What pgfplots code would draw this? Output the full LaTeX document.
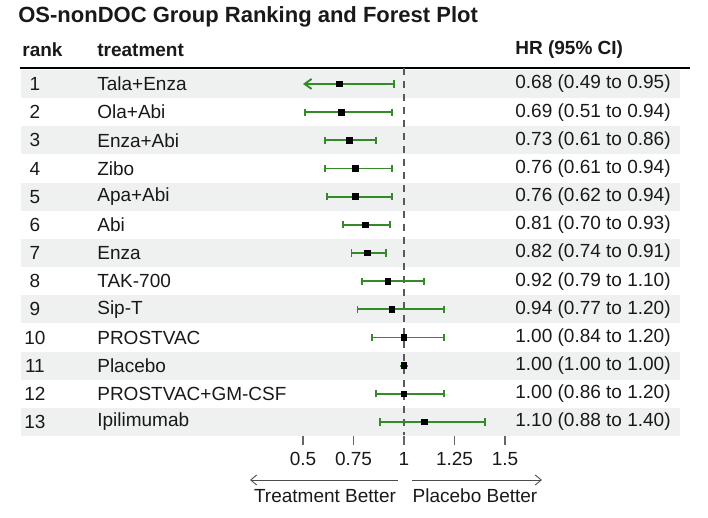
\documentclass[border=0pt]{standalone}
\usepackage{pgfplots}
\pgfplotsset{compat=1.18}
\usepackage{pgfplotstable}
\usepackage{fontspec}
\setmainfont{Liberation Sans}
\usetikzlibrary{arrows.meta}
\definecolor{barg}{RGB}{52,138,38}
\definecolor{band}{RGB}{238,241,240}
\definecolor{txt}{RGB}{25,25,25}

\pgfplotstableread{
rank hr em ep
2  0.69 0.18 0.25
3  0.73 0.12 0.13
4  0.76 0.15 0.18
5  0.76 0.14 0.18
6  0.81 0.11 0.12
7  0.82 0.08 0.09
8  0.92 0.13 0.18
9  0.94 0.17 0.26
10 1.00 0.16 0.20
11 1.00 0.00 0.00
12 1.00 0.14 0.20
13 1.10 0.22 0.30
}\forest

\begin{document}
\begin{tikzpicture}[font=\fontsize{9.5}{11}\selectfont, every node/.style={text=txt, inner xsep=0pt}]
\begin{axis}[
  scale only axis, width=101pt, height=183.5pt,
  xmin=0.5, xmax=1.5, ymin=-13.46, ymax=-0.432,
  clip=false,
  axis x line=bottom, axis y line=none,
  axis line style={gray!80!black, line width=0.6pt, -},
  xtick={0.5,0.75,1,1.25,1.5},
  tick align=outside,
  major tick length=5pt,
  tick style={gray!80!black, line width=0.6pt},
  ytick=\empty,
  /pgf/number format/assume math mode=true,
  xticklabel style={font=\fontsize{9.5}{11}\selectfont, text=txt},
]
% row shading
\foreach \r in {1,3,5,7,9,11,13} {
  \edef\tmp{\noexpand\fill[band] (axis cs:-0.897,-\r+0.5) rectangle (axis cs:2.366,-\r-0.5);}
  \tmp
}
% header line
\draw[black, line width=1pt] (axis cs:-0.901,-0.432) -- (axis cs:2.416,-0.432);
% reference line
\addplot[gray!70!black, line width=0.75pt, dash pattern=on 3.5pt off 3pt] coordinates {(1,-0.432) (1,-13.46)};
% row 1 (lower limit beyond axis: arrow)
\addplot[barg, line width=0.95pt, -{Straight Barb[length=3.5pt,width=5pt]}] coordinates {(0.68,-1) (0.5,-1)};
\addplot[barg, line width=0.95pt] coordinates {(0.68,-1) (0.95,-1)};
\addplot[barg, line width=0.95pt] coordinates {(0.95,-0.87) (0.95,-1.13)};
\addplot[only marks, mark=square*, mark size=1.4pt, black] coordinates {(0.68,-1)};
% rows 2-13
\addplot[only marks, mark=square*, mark size=1.4pt, black,
  error bars/.cd, x dir=both, x explicit,
  error bar style={barg, line width=0.95pt},
  error mark options={barg, line width=0.95pt, mark size=1.8pt, rotate=90}]
  table[x=hr, y expr=-\thisrow{rank}, x error minus=em, x error plus=ep] {\forest};

% title and headers
\node[anchor=west, font=\fontsize{11}{13}\selectfont\bfseries] at (axis cs:-0.911,1.378) {OS-nonDOC Group Ranking and Forest Plot};
\node[anchor=west, font=\fontsize{9.5}{11}\selectfont\bfseries] at (axis cs:-0.891,0.207) {rank};
\node[anchor=west, font=\fontsize{9.5}{11}\selectfont\bfseries] at (axis cs:-0.520,0.207) {treatment};
\node[anchor=west, font=\fontsize{9.5}{11}\selectfont\bfseries] at (axis cs:1.5495,0.207) {HR (95\% CI)};

% table text
\node at (axis cs:-0.827,-1) {1};  \node[anchor=west] at (axis cs:-0.520,-1) {Tala+Enza};  \node[anchor=west] at (axis cs:1.5495,-1) {0.68 (0.49 to 0.95)};
\node at (axis cs:-0.827,-2) {2};  \node[anchor=west] at (axis cs:-0.520,-2) {Ola+Abi};  \node[anchor=west] at (axis cs:1.5495,-2) {0.69 (0.51 to 0.94)};
\node at (axis cs:-0.827,-3) {3};  \node[anchor=west] at (axis cs:-0.520,-3) {Enza+Abi};  \node[anchor=west] at (axis cs:1.5495,-3) {0.73 (0.61 to 0.86)};
\node at (axis cs:-0.827,-4) {4};  \node[anchor=west] at (axis cs:-0.520,-4) {Zibo};  \node[anchor=west] at (axis cs:1.5495,-4) {0.76 (0.61 to 0.94)};
\node at (axis cs:-0.827,-5) {5};  \node[anchor=west] at (axis cs:-0.520,-5) {Apa+Abi};  \node[anchor=west] at (axis cs:1.5495,-5) {0.76 (0.62 to 0.94)};
\node at (axis cs:-0.827,-6) {6};  \node[anchor=west] at (axis cs:-0.520,-6) {Abi};  \node[anchor=west] at (axis cs:1.5495,-6) {0.81 (0.70 to 0.93)};
\node at (axis cs:-0.827,-7) {7};  \node[anchor=west] at (axis cs:-0.520,-7) {Enza};  \node[anchor=west] at (axis cs:1.5495,-7) {0.82 (0.74 to 0.91)};
\node at (axis cs:-0.827,-8) {8};  \node[anchor=west] at (axis cs:-0.520,-8) {TAK-700};  \node[anchor=west] at (axis cs:1.5495,-8) {0.92 (0.79 to 1.10)};
\node at (axis cs:-0.827,-9) {9};  \node[anchor=west] at (axis cs:-0.520,-9) {Sip-T};  \node[anchor=west] at (axis cs:1.5495,-9) {0.94 (0.77 to 1.20)};
\node at (axis cs:-0.827,-10) {10};  \node[anchor=west] at (axis cs:-0.520,-10) {PROSTVAC};  \node[anchor=west] at (axis cs:1.5495,-10) {1.00 (0.84 to 1.20)};
\node at (axis cs:-0.827,-11) {11};  \node[anchor=west] at (axis cs:-0.520,-11) {Placebo};  \node[anchor=west] at (axis cs:1.5495,-11) {1.00 (1.00 to 1.00)};
\node at (axis cs:-0.827,-12) {12};  \node[anchor=west] at (axis cs:-0.520,-12) {PROSTVAC+GM-CSF};  \node[anchor=west] at (axis cs:1.5495,-12) {1.00 (0.86 to 1.20)};
\node at (axis cs:-0.827,-13) {13};  \node[anchor=west] at (axis cs:-0.520,-13) {Ipilimumab};  \node[anchor=west] at (axis cs:1.5495,-13) {1.10 (0.88 to 1.40)};

% direction arrows
\draw[gray!60!black, line width=0.45pt, {Straight Barb[length=3pt,width=5pt]}-] (axis cs:0.2376,-15.058) -- (axis cs:0.970,-15.058);
\draw[gray!60!black, line width=0.45pt, -{Straight Barb[length=3pt,width=5pt]}] (axis cs:1.0396,-15.058) -- (axis cs:1.683,-15.058);
\node at (axis cs:0.6089,-15.626) {Treatment Better};
\node at (axis cs:1.3515,-15.626) {Placebo Better};

% page extent
\path (axis cs:-1.0,1.911) rectangle (axis cs:2.505,-16.407);
\end{axis}
\end{tikzpicture}
\end{document}
